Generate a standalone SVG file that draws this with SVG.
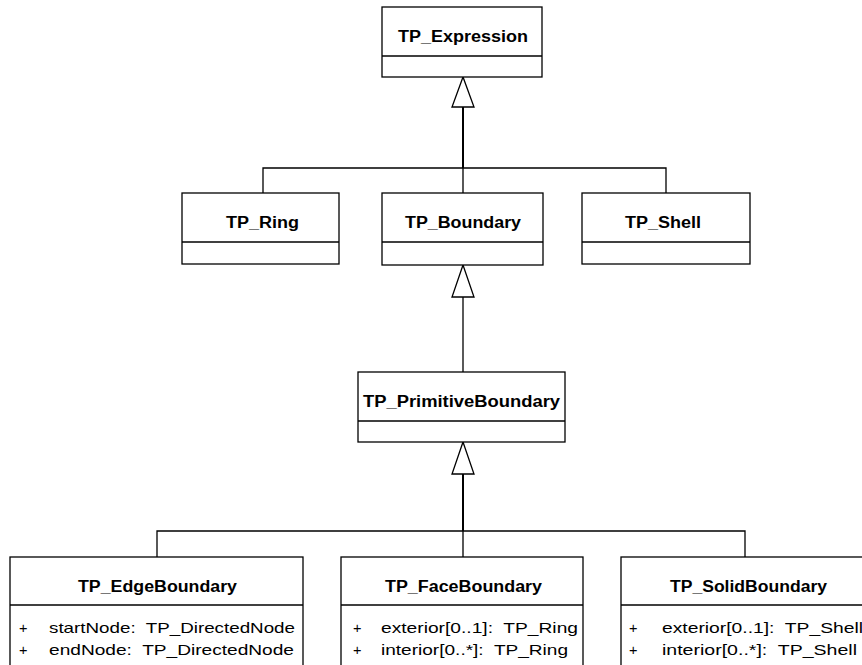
<svg xmlns="http://www.w3.org/2000/svg" width="862" height="665" viewBox="0 0 862 665">
  <style>
    .box { fill: #ffffff; stroke: #000000; stroke-width: 1.3; }
    .div { stroke: #000000; stroke-width: 1.3; }
    .title { font-family: "Liberation Sans", Arial, sans-serif; font-size: 16px; font-weight: bold; fill: #000000; }
    .attr { font-family: "Liberation Sans", Arial, sans-serif; font-size: 14.5px; fill: #000000; white-space: pre; }
    .edge { fill: none; stroke: #000000; stroke-width: 1.3; }
    .trunk { fill: none; stroke: #000000; stroke-width: 2; }
    .head { fill: #ffffff; stroke: #000000; stroke-width: 1.3; }
  </style>

  <!-- generalization connectors -->
  <g id="connectors">
    <!-- TP_Ring / TP_Boundary / TP_Shell -> TP_Expression -->
    <path class="trunk" d="M463,107 V168"/>
    <path class="edge" d="M263,193 V168 H666 V193 M463,168 V193"/>
    <polygon class="head" points="463,77 452,107 474,107"/>
    <!-- TP_PrimitiveBoundary -> TP_Boundary -->
    <path class="edge" d="M463,297 V372"/>
    <polygon class="head" points="463,265 452,297 474,297"/>
    <!-- TP_EdgeBoundary / TP_FaceBoundary / TP_SolidBoundary -> TP_PrimitiveBoundary -->
    <path class="trunk" d="M463,474 V531"/>
    <path class="edge" d="M157,557 V531 H745 V557 M463,531 V557"/>
    <polygon class="head" points="463,442 452,474 474,474"/>
  </g>

  <g id="TP_Expression">
    <rect class="box" x="382" y="7" width="160" height="70"/>
    <line class="div" x1="382" y1="56" x2="542" y2="56"/>
    <text class="title" x="398" y="42" textLength="130" lengthAdjust="spacingAndGlyphs">TP_Expression</text>
  </g>

  <g id="TP_Ring">
    <rect class="box" x="182" y="193" width="157" height="71"/>
    <line class="div" x1="182" y1="242" x2="339" y2="242"/>
    <text class="title" x="226" y="228" textLength="73" lengthAdjust="spacingAndGlyphs">TP_Ring</text>
  </g>

  <g id="TP_Boundary">
    <rect class="box" x="382" y="193" width="161" height="72"/>
    <line class="div" x1="382" y1="242" x2="543" y2="242"/>
    <text class="title" x="405" y="228" textLength="116" lengthAdjust="spacingAndGlyphs">TP_Boundary</text>
  </g>

  <g id="TP_Shell">
    <rect class="box" x="582" y="193" width="168" height="71"/>
    <line class="div" x1="582" y1="242" x2="750" y2="242"/>
    <text class="title" x="625" y="228" textLength="76" lengthAdjust="spacingAndGlyphs">TP_Shell</text>
  </g>

  <g id="TP_PrimitiveBoundary">
    <rect class="box" x="358" y="372" width="207" height="70"/>
    <line class="div" x1="358" y1="421" x2="565" y2="421"/>
    <text class="title" x="363" y="407" textLength="197" lengthAdjust="spacingAndGlyphs">TP_PrimitiveBoundary</text>
  </g>

  <g id="TP_EdgeBoundary">
    <rect class="box" x="10" y="557" width="293" height="120"/>
    <line class="div" x1="10" y1="605" x2="303" y2="605"/>
    <text class="title" x="78" y="592" textLength="159" lengthAdjust="spacingAndGlyphs">TP_EdgeBoundary</text>
    <text class="attr" x="19" y="633">+</text>
    <text class="attr" x="49" y="633" textLength="246" lengthAdjust="spacingAndGlyphs">startNode:  TP_DirectedNode</text>
    <text class="attr" x="19" y="655">+</text>
    <text class="attr" x="49" y="655" textLength="245" lengthAdjust="spacingAndGlyphs">endNode:  TP_DirectedNode</text>
  </g>

  <g id="TP_FaceBoundary">
    <rect class="box" x="341" y="557" width="242" height="120"/>
    <line class="div" x1="341" y1="605" x2="583" y2="605"/>
    <text class="title" x="385" y="592" textLength="157" lengthAdjust="spacingAndGlyphs">TP_FaceBoundary</text>
    <text class="attr" x="353" y="633">+</text>
    <text class="attr" x="381" y="633" textLength="197" lengthAdjust="spacingAndGlyphs">exterior[0..1]:  TP_Ring</text>
    <text class="attr" x="353" y="655">+</text>
    <text class="attr" x="381" y="655" textLength="187" lengthAdjust="spacingAndGlyphs">interior[0..*]:  TP_Ring</text>
  </g>

  <g id="TP_SolidBoundary">
    <rect class="box" x="621" y="557" width="260" height="120"/>
    <line class="div" x1="621" y1="605" x2="881" y2="605"/>
    <text class="title" x="670" y="592" textLength="157" lengthAdjust="spacingAndGlyphs">TP_SolidBoundary</text>
    <text class="attr" x="629" y="633">+</text>
    <text class="attr" x="662" y="633" textLength="201" lengthAdjust="spacingAndGlyphs">exterior[0..1]:  TP_Shell</text>
    <text class="attr" x="629" y="655">+</text>
    <text class="attr" x="662" y="655" textLength="195" lengthAdjust="spacingAndGlyphs">interior[0..*]:  TP_Shell</text>
  </g>
</svg>
